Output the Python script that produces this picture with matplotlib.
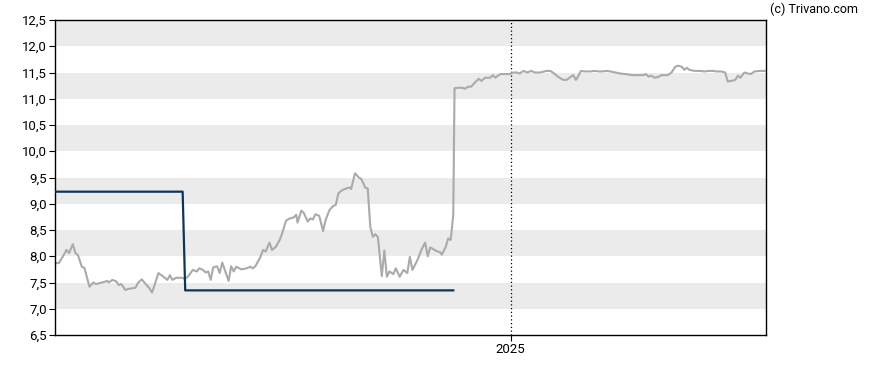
import matplotlib
matplotlib.use("Agg")
import matplotlib.pyplot as plt
import matplotlib.dates as mdates
import matplotlib.ticker as mticker
import numpy as np
import pandas as pd

plt.rcParams["font.family"] = ["Roboto", "DejaVu Sans"]

start = pd.Timestamp("2024-01-10")
span_days = 557

# price series: day offset from start, price
price_days = [
    0, 3, 6, 9, 11, 14, 16, 18, 21, 23, 27, 30, 32, 37, 41, 42, 45, 48, 50, 52,
    55, 58, 63, 65, 68, 71, 74, 76, 78, 81, 85, 88, 90, 92, 95, 99, 102, 104, 108, 111,
    113, 116, 118, 120, 122, 124, 127, 129, 131, 133, 136, 138, 140, 142, 146, 150, 153, 155, 157, 161,
    163, 165, 168, 170, 173, 176, 178, 181, 184, 187, 189, 190, 193, 195, 198, 200, 202, 204, 207, 210,
    212, 215, 218, 220, 222, 225, 228, 231, 232, 235, 238, 240, 243, 245, 247, 249, 251, 253, 256, 258,
    260, 262, 265, 267, 270, 273, 276, 278, 280, 284, 287, 290, 292, 294, 298, 302, 303, 306, 308, 310,
    312, 313, 316, 319, 321, 324, 326, 329, 332, 334, 337, 341, 343, 345, 347, 349, 353, 356, 359, 362,
    364, 367, 370, 373, 376, 380, 385, 388, 390, 394, 398, 401, 403, 406, 408, 409, 412, 415, 419, 423,
    426, 429, 432, 435, 439, 443, 447, 452, 457, 461, 463, 465, 467, 470, 473, 475, 480, 483, 486, 488,
    491, 493, 495, 497, 501, 505, 509, 512, 516, 518, 522, 525, 527, 530, 533, 535, 537, 540, 543, 545,
    548, 552, 556,
]
prices = [
    7.87, 7.87, 7.99, 8.12, 8.06, 8.23, 8.06, 8.02, 7.80, 7.78, 7.42, 7.50, 7.47, 7.50, 7.53, 7.50, 7.55, 7.52, 7.45, 7.47,
    7.36, 7.38, 7.40, 7.49, 7.56, 7.47, 7.39, 7.31, 7.45, 7.68, 7.61, 7.55, 7.64, 7.55, 7.59, 7.59, 7.57, 7.61, 7.74, 7.71,
    7.77, 7.74, 7.69, 7.71, 7.55, 7.79, 7.81, 7.68, 7.88, 7.74, 7.53, 7.81, 7.71, 7.80, 7.75, 7.77, 7.80, 7.77, 7.81, 7.99,
    8.12, 8.09, 8.26, 8.12, 8.18, 8.31, 8.44, 8.68, 8.72, 8.74, 8.79, 8.64, 8.87, 8.82, 8.66, 8.72, 8.70, 8.80, 8.77, 8.48,
    8.69, 8.88, 8.96, 8.98, 9.20, 9.26, 9.29, 9.31, 9.28, 9.58, 9.50, 9.47, 9.31, 9.29, 8.56, 8.37, 8.42, 8.36, 7.62, 8.11,
    7.61, 7.71, 7.66, 7.77, 7.61, 7.74, 7.68, 7.99, 7.74, 7.93, 8.12, 8.26, 8.00, 8.17, 8.11, 8.07, 8.03, 8.17, 8.34, 8.31,
    8.79, 11.20, 11.21, 11.21, 11.19, 11.23, 11.23, 11.31, 11.38, 11.34, 11.40, 11.40, 11.45, 11.40, 11.44, 11.47, 11.47, 11.47, 11.50, 11.50,
    11.48, 11.53, 11.50, 11.53, 11.50, 11.50, 11.53, 11.53, 11.50, 11.42, 11.36, 11.36, 11.40, 11.45, 11.36, 11.39, 11.53, 11.52, 11.52, 11.53,
    11.52, 11.52, 11.53, 11.52, 11.50, 11.48, 11.47, 11.45, 11.45, 11.45, 11.47, 11.42, 11.44, 11.40, 11.42, 11.45, 11.45, 11.50, 11.61, 11.63,
    11.61, 11.55, 11.59, 11.55, 11.53, 11.53, 11.52, 11.53, 11.53, 11.52, 11.52, 11.50, 11.33, 11.34, 11.36, 11.44, 11.40, 11.50, 11.48, 11.47,
    11.52, 11.53, 11.53,
]

# second (step) series
step_days = [0, 100, 102, 312]
step_vals = [9.23, 9.23, 7.35, 7.35]

marker_date = pd.Timestamp("2025-01-01")

price_dates = start + pd.to_timedelta(price_days, unit="D")
step_dates = start + pd.to_timedelta(step_days, unit="D")

fig = plt.figure(figsize=(8.88, 3.70), dpi=100)
ax = fig.add_axes([55 / 888, 1 - 335 / 370, 711 / 888, 315 / 370])

for lo in np.arange(7.0, 12.5, 1.0):
    ax.axhspan(lo, lo + 0.5, color="#ebebeb", lw=0, zorder=0)

ax.axvline(marker_date, color="black", lw=0.9, linestyle=(0, (1, 2)), zorder=1)
ax.plot(price_dates, prices, color="#aaaaaa", lw=1.5, zorder=2)
ax.plot(step_dates, step_vals, color="#0c3659", lw=1.6, zorder=3)

ax.set_xlim(start, start + pd.Timedelta(days=span_days))
ax.set_ylim(6.5, 12.5)
ax.yaxis.set_major_locator(mticker.MultipleLocator(0.5))
ax.yaxis.set_major_formatter(mticker.FuncFormatter(lambda v, p: f"{v:.1f}".replace(".", ",")))
ax.set_xticks([marker_date])
ax.xaxis.set_major_formatter(mdates.DateFormatter("%Y"))
ax.tick_params(axis="both", labelsize=9.5, length=4, width=0.8, colors="black", pad=2)

for s in ax.spines.values():
    s.set_linewidth(1.0)
    s.set_color("black")

fig.text(858 / 888, 1 - 9 / 370, "(c) Trivano.com", ha="right", va="center", fontsize=9)

fig.savefig("out.png", dpi=100)
plt.close(fig)
